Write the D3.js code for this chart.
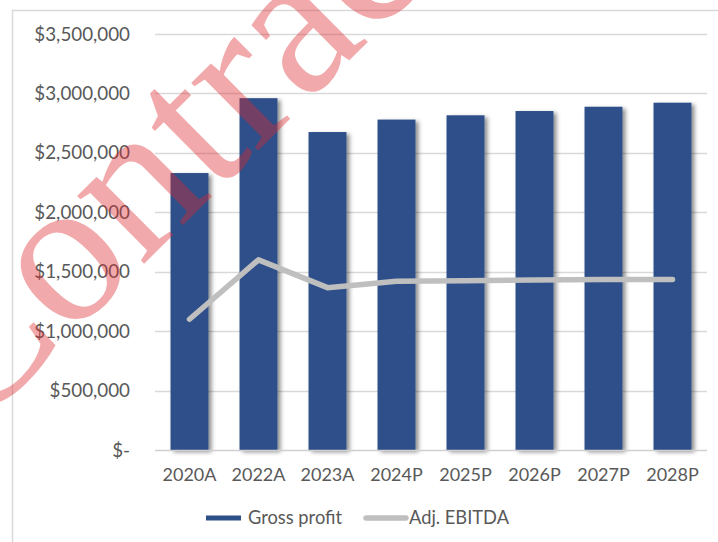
<!DOCTYPE html>
<html>
<head>
<meta charset="utf-8">
<script src="https://cdn.jsdelivr.net/npm/d3@7"></script>
<style>
  body { margin: 0; background: #fff; }
  svg { display: block; font-family: Lato, "Open Sans", sans-serif; }
</style>
</head>
<body>
<svg id="chart" width="718" height="542"></svg>
<script>
// Chart data
const categories = ["2020A", "2022A", "2023A", "2024P", "2025P", "2026P", "2027P", "2028P"];
const grossProfit = [2330000, 2960000, 2675000, 2780000, 2816000, 2852000, 2888000, 2922000];
const adjEbitda = [1100000, 1600000, 1366000, 1420000, 1425000, 1430000, 1435000, 1435000];
const yTicks = [0, 500000, 1000000, 1500000, 2000000, 2500000, 3000000, 3500000];
const seriesNames = ["Gross profit", "Adj. EBITDA"];

const svg = d3.select("#chart");
const width = 718, height = 542;
const margin = { top: 34, right: 11, bottom: 92, left: 155 };

const barColor = "#2e5089";
const lineColor = "#bfbfbf";
const textColor = "#595959";

// drop shadow for the bars
const defs = svg.append("defs");
defs.append("filter")
    .attr("id", "shadow")
    .attr("x", "-20%").attr("y", "-10%")
    .attr("width", "150%").attr("height", "130%")
  .append("feDropShadow")
    .attr("dx", 3).attr("dy", 2)
    .attr("stdDeviation", 2)
    .attr("flood-color", "#000")
    .attr("flood-opacity", 0.45);

// outer frame
svg.append("rect")
    .attr("x", 12.5).attr("y", 10.5)
    .attr("width", 800).attr("height", 600)
    .attr("fill", "none")
    .attr("stroke", "#d9d9d9")
    .attr("stroke-width", 1.5);

const x = d3.scaleBand()
    .domain(categories)
    .range([margin.left, width - margin.right])
    .paddingInner(0.45)
    .paddingOuter(0.225);

const y = d3.scaleLinear()
    .domain([0, 3500000])
    .range([height - margin.bottom, margin.top]);

const fmt = d => d === 0 ? "$-" : "$" + d3.format(",")(d);

// gridlines
svg.append("g")
    .selectAll("line")
    .data(yTicks.filter(d => d > 0))
    .join("line")
      .attr("x1", margin.left)
      .attr("x2", width - margin.right)
      .attr("y1", d => Math.round(y(d)) + 0.5)
      .attr("y2", d => Math.round(y(d)) + 0.5)
      .attr("stroke", "#d9d9d9")
      .attr("stroke-width", 1.5);

// y-axis labels
svg.append("g")
    .selectAll("text")
    .data(yTicks)
    .join("text")
      .attr("x", 130)
      .attr("y", d => y(d))
      .attr("dy", "0.35em")
      .attr("text-anchor", "end")
      .attr("font-size", "18.8px")
      .attr("fill", textColor)
      .text(fmt);

// bars
svg.append("g")
    .selectAll("rect")
    .data(categories)
    .join("rect")
      .attr("x", d => x(d))
      .attr("y", (d, i) => y(grossProfit[i]))
      .attr("width", x.bandwidth())
      .attr("height", (d, i) => y(0) - y(grossProfit[i]))
      .attr("fill", barColor)
      .attr("filter", "url(#shadow)");

// x-axis line
svg.append("line")
    .attr("x1", margin.left)
    .attr("x2", width - margin.right)
    .attr("y1", y(0) + 0.5)
    .attr("y2", y(0) + 0.5)
    .attr("stroke", "#d0d0d0")
    .attr("stroke-width", 1.5);

// x-axis labels
svg.append("g")
    .selectAll("text")
    .data(categories)
    .join("text")
      .attr("x", d => x(d) + x.bandwidth() / 2)
      .attr("y", 481)
      .attr("text-anchor", "middle")
      .attr("font-size", "18px")
      .attr("fill", textColor)
      .text(d => d);

// EBITDA line
const line = d3.line()
    .x((d, i) => x(categories[i]) + x.bandwidth() / 2)
    .y(d => y(d));

svg.append("path")
    .datum(adjEbitda)
    .attr("d", line)
    .attr("fill", "none")
    .attr("stroke", lineColor)
    .attr("stroke-width", 5.5)
    .attr("stroke-linecap", "round")
    .attr("stroke-linejoin", "round");

// legend
const legend = svg.append("g");
legend.append("rect")
    .attr("x", 206).attr("y", 515.5)
    .attr("width", 35).attr("height", 5)
    .attr("fill", barColor);
legend.append("text")
    .attr("x", 248).attr("y", 524)
    .attr("font-size", "18.3px")
    .attr("fill", textColor)
    .text(seriesNames[0]);
legend.append("line")
    .attr("x1", 366).attr("x2", 406)
    .attr("y1", 518).attr("y2", 518)
    .attr("stroke", lineColor)
    .attr("stroke-width", 5.5)
    .attr("stroke-linecap", "round");
legend.append("text")
    .attr("x", 409).attr("y", 524)
    .attr("font-size", "18.3px")
    .attr("fill", textColor)
    .text(seriesNames[1]);

// watermark: placed so the "o" and the "a" land where they sit in the picture
const wmSize = 200;
const wm = svg.append("text")
    .attr("x", 0).attr("y", 0)
    .attr("font-family", "'Liberation Serif', 'DejaVu Serif', serif")
    .attr("font-size", wmSize + "px")
    .attr("fill", "rgb(220,40,45)")
    .attr("fill-opacity", 0.4)
    .text("Contract");

const wmNode = wm.node();
const glyphCenter = i => {
  const b = wmNode.getExtentOfChar(i);
  return [b.x + b.width / 2, -0.23 * wmSize];
};
const oLocal = glyphCenter(1), aLocal = glyphCenter(5);
const oTarget = [76, 264], aTarget = [298, 44];
const dx = aTarget[0] - oTarget[0], dy = aTarget[1] - oTarget[1];
const angle = Math.atan2(dy, dx) * 180 / Math.PI;
const k = Math.hypot(dx, dy) / (aLocal[0] - oLocal[0]);
// anchor at the middle between the two glyphs, a touch larger
const mid = [(oTarget[0] + aTarget[0]) / 2, (oTarget[1] + aTarget[1]) / 2];
const midLocal = [(oLocal[0] + aLocal[0]) / 2, oLocal[1]];
wm.attr("transform",
  `translate(${mid[0]},${mid[1]}) rotate(${angle}) scale(${k * 1.05}) translate(${-midLocal[0]},${-midLocal[1]})`);
</script>
</body>
</html>
